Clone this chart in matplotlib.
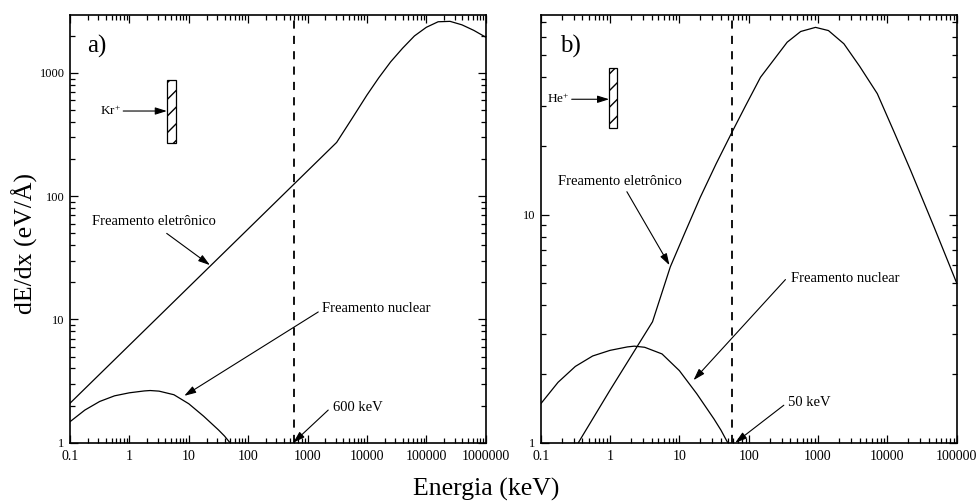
import matplotlib
matplotlib.use('Agg')
import numpy as np
import matplotlib.pyplot as plt
from matplotlib.patches import Rectangle
from matplotlib.ticker import LogLocator, NullFormatter

plt.rcParams['font.family'] = ['Liberation Serif', 'DejaVu Serif']
plt.rcParams['mathtext.fontset'] = 'custom'
plt.rcParams['mathtext.rm'] = 'Liberation Serif'
plt.rcParams['mathtext.it'] = 'Liberation Serif:italic'
plt.rcParams['hatch.linewidth'] = 1.0

# ---------------- data ----------------
# Panel a) Kr+
kr_ele_E = [0.1, 3090, 5620, 10000, 15800, 25100, 39800, 63100, 100000, 158000,
            251000, 398000, 631000, 1000000]
kr_ele_S = [2.09, 273, 427, 661, 912, 1230, 1585, 1995, 2344, 2600,
            2620, 2455, 2213, 1950]
kr_nuc_E = [0.1, 0.178, 0.316, 0.562, 1.0, 1.78, 2.24, 3.16, 5.62, 10, 17.8, 31.6, 39.8, 49.4]
kr_nuc_S = [1.48, 1.84, 2.16, 2.40, 2.54, 2.63, 2.65, 2.62, 2.45, 2.07, 1.64, 1.27, 1.135, 1.0]
kr_limit = 600

# Panel b) He+
he_ele_E = [0.349, 1.0, 4.10, 7.40, 12.0, 20.0, 33.9, 57.5, 89.1, 148, 224, 359, 562,
            920, 1413, 2360, 3980, 7160, 12600, 21700, 47100, 100000]
he_ele_S = [1.0, 1.70, 3.39, 5.90, 8.32, 11.9, 16.7, 23.0, 29.8, 40.0, 47.2, 57.0, 63.5,
            66.2, 64.1, 56.1, 44.7, 33.9, 22.9, 15.6, 8.83, 5.01]
he_nuc_E = [0.1, 0.178, 0.316, 0.562, 1.0, 1.78, 2.24, 3.16, 5.62, 10, 17.8, 31.6, 39.8, 49.8]
he_nuc_S = [1.48, 1.84, 2.16, 2.40, 2.54, 2.63, 2.65, 2.62, 2.45, 2.07, 1.64, 1.27, 1.135, 1.0]
he_limit = 57

xticks_a = [0.1, 1, 10, 100, 1000, 10000, 100000, 1000000]
xlabels_a = ['0.1', '1', '10', '100', '1000', '10000', '100000', '1000000']
xticks_b = [0.1, 1, 10, 100, 1000, 10000, 100000]
xlabels_b = ['0.1', '1', '10', '100', '1000', '10000', '100000']
yticks_a = [1, 10, 100, 1000]
ylabels_a = ['1', '10', '100', '1000']
yticks_b = [1, 10]
ylabels_b = ['1', '10']

# ---------------- figure ----------------
W, H = 980, 503
fig = plt.figure(figsize=(9.8, 5.03), dpi=100)
axL = fig.add_axes([70 / W, 1 - 442.7 / H, 415.7 / W, 427.7 / H])
axR = fig.add_axes([540.7 / W, 1 - 442.7 / H, 416 / W, 427.7 / H])


def style_axes(ax, xlim, ylim, xt, xl, yt, yl):
    ax.set_xscale('log')
    ax.set_yscale('log')
    ax.set_xlim(*xlim)
    ax.set_ylim(*ylim)
    ax.set_xticks(xt, labels=xl)
    ax.set_yticks(yt, labels=yl)
    ax.xaxis.set_minor_locator(LogLocator(base=10, subs=np.arange(2, 10), numticks=30))
    ax.yaxis.set_minor_locator(LogLocator(base=10, subs=np.arange(2, 10), numticks=30))
    ax.xaxis.set_minor_formatter(NullFormatter())
    ax.yaxis.set_minor_formatter(NullFormatter())
    ax.tick_params(which='both', direction='in', top=True, right=True, width=0.9)
    ax.tick_params(which='major', length=6)
    ax.tick_params(which='minor', length=3.5)
    ax.tick_params(axis='x', which='major', labelsize=10, pad=5)
    ax.tick_params(axis='y', which='major', labelsize=9, pad=4)
    for s in ax.spines.values():
        s.set_linewidth(1.2)


style_axes(axL, (0.1, 1e6), (1, 2950), xticks_a, xlabels_a, yticks_a, ylabels_a)
style_axes(axR, (0.1, 1e5), (1, 75), xticks_b, xlabels_b, yticks_b, ylabels_b)

lw = 0.9
axL.plot(kr_ele_E, kr_ele_S, color='black', lw=lw)
axL.plot(kr_nuc_E, kr_nuc_S, color='black', lw=lw)
axL.axvline(kr_limit, color='black', lw=1.3, linestyle=(0, (4.5, 4)))

axR.plot(he_ele_E, he_ele_S, color='black', lw=lw)
axR.plot(he_nuc_E, he_nuc_S, color='black', lw=lw)
axR.axvline(he_limit, color='black', lw=1.3, linestyle=(0, (4.5, 4)))

ann_fs = 10.5
arrow_kw = dict(arrowstyle='-|>,head_length=0.7,head_width=0.22', color='black',
                lw=0.8, shrinkA=0, shrinkB=0, mutation_scale=10)


def arrow(ax, tail, tip, coords='data'):
    ax.annotate('', xy=tip, xytext=tail, xycoords=coords, textcoords=coords,
                arrowprops=arrow_kw)


# ---- panel a annotations ----
axL.text(0.040, 0.912, 'a)', transform=axL.transAxes, fontsize=18, ha='left', va='baseline')
axL.add_patch(Rectangle((0.234, 0.700), 0.0202, 0.148, transform=axL.transAxes,
                        facecolor='white', edgecolor='black', lw=0.9, hatch='//'))
arrow(axL, (0.128, 0.7755), (0.233, 0.7755), coords='axes fraction')
axL.text(0.072, 0.7755, 'Kr$^{+}$', transform=axL.transAxes, fontsize=9.5, ha='left', va='center')

axL.text(0.232, 62, 'Freamento eletrônico', fontsize=ann_fs, ha='left', va='center')
arrow(axL, (4.25, 49.9), (22.7, 27.6))
axL.text(1725, 12.3, 'Freamento nuclear', fontsize=ann_fs, ha='left', va='center')
arrow(axL, (1515, 11.5), (8.4, 2.40))
axL.text(2710, 1.94, '600 keV', fontsize=ann_fs, ha='left', va='center')
arrow(axL, (2230, 1.84), (575, 1.0))

# ---- panel b annotations ----
axR.text(0.046, 0.912, 'b)', transform=axR.transAxes, fontsize=18, ha='left', va='baseline')
axR.add_patch(Rectangle((0.165, 0.735), 0.0192, 0.140, transform=axR.transAxes,
                        facecolor='white', edgecolor='black', lw=0.9, hatch='//'))
arrow(axR, (0.0745, 0.803), (0.1645, 0.803), coords='axes fraction')
axR.text(0.014, 0.803, 'He$^{+}$', transform=axR.transAxes, fontsize=9.5, ha='left', va='center')

axR.text(0.18, 13.9, 'Freamento eletrônico', fontsize=ann_fs, ha='left', va='center')
arrow(axR, (1.75, 12.6), (7.2, 6.0))
axR.text(401, 5.25, 'Freamento nuclear', fontsize=ann_fs, ha='left', va='center')
arrow(axR, (339, 5.19), (16.0, 1.88))
axR.text(371, 1.50, '50 keV', fontsize=ann_fs, ha='left', va='center')
arrow(axR, (321, 1.46), (64, 1.0))

# ---- axis labels ----
fig.text(25 / W, 1 - 244 / H, 'dE/dx (eV/Å)', rotation=90, fontsize=18.5,
         ha='center', va='center')
fig.text(486 / W, 1 - 489 / H, 'Energia (keV)', fontsize=18.5, ha='center', va='center')

fig.savefig('out.png', dpi=100)
